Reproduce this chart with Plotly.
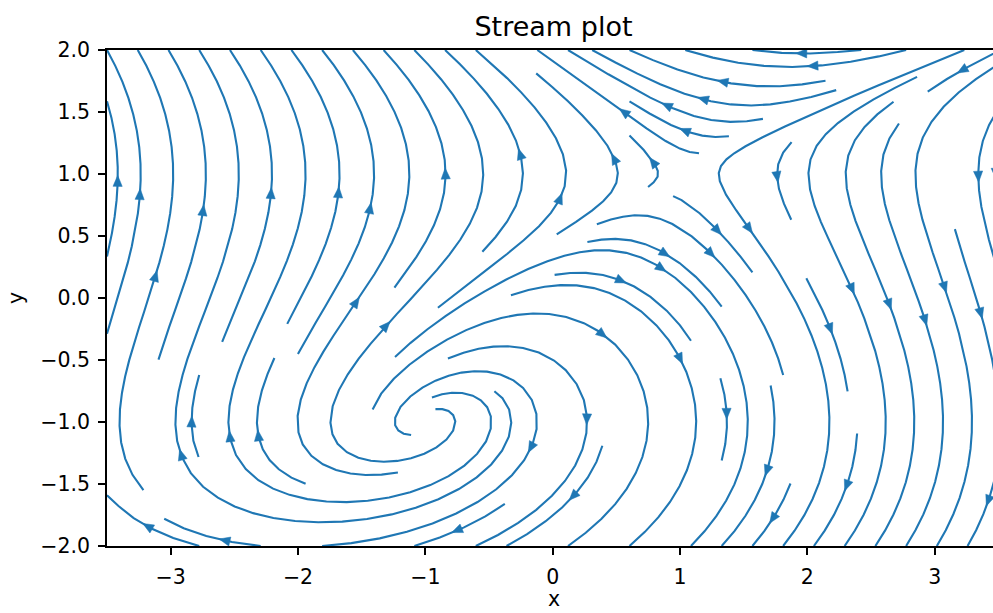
import numpy as np
import plotly.graph_objects as go

# ---------------- data ----------------
x_range = [-3.5, 3.5]
y_range = [-2.0, 2.0]
grid_points = 100
u_strength = 1.0
x_tick_values = [-3, -2, -1, 0, 1, 2, 3]
x_tick_text = ["−3", "−2", "−1", "0", "1", "2", "3"]
y_tick_values = [-2.0, -1.5, -1.0, -0.5, 0.0, 0.5, 1.0, 1.5, 2.0]
y_tick_text = ["−2.0", "−1.5", "−1.0", "−0.5", "0.0", "0.5", "1.0", "1.5", "2.0"]
title_text = "Stream plot"
x_label = "x"
y_label = "y"

xs = np.linspace(x_range[0], x_range[1], grid_points)
ys = np.linspace(y_range[0], y_range[1], grid_points)
X, Y = np.meshgrid(xs, ys)
U = u_strength * (1.0 - Y ** 2)
V = Y - X

# ---------------- layout geometry (px) ----------------
W, H = 993, 613
L, T, B_PX = 107, 50, 546
PW = W - L
PH = B_PX - T
SX = 127.33                      # px per x unit
SY = PH / (y_range[1] - y_range[0])
x_view = [x_range[0], x_range[0] + PW / SX]


class OOB(Exception):
    pass


class Term(Exception):
    pass


class InvIdx(Exception):
    pass


def streamlines(x, y, u, v, density=1.0, minlength=0.1, maxlength=4.0):
    nx, ny = len(x), len(y)
    dx = x[1] - x[0]
    dy = y[1] - y[0]
    mnx = mny = int(30 * density)
    mask = np.zeros((mny, mnx))
    x_g2m = (mnx - 1) / (nx - 1)
    y_g2m = (mny - 1) / (ny - 1)
    ug = u / dx
    vg = v / dy
    speed = np.sqrt((ug / (nx - 1)) ** 2 + (vg / (ny - 1)) ** 2)
    st = {"cur": None, "traj": []}

    def within(xi, yi):
        return 0 <= xi <= nx - 1 and 0 <= yi <= ny - 1

    def g2m(xi, yi):
        return int(round(float(xi * x_g2m))), int(round(float(yi * y_g2m)))

    def upd_mask(xm, ym):
        if st["cur"] != (xm, ym):
            if mask[ym, xm] == 0:
                st["traj"].append((ym, xm))
                mask[ym, xm] = 1
                st["cur"] = (xm, ym)
            else:
                raise InvIdx

    def start(xg, yg):
        xm, ym = g2m(xg, yg)
        st["traj"] = []
        upd_mask(xm, ym)

    def upd(xg, yg):
        if not within(xg, yg):
            raise InvIdx
        xm, ym = g2m(xg, yg)
        upd_mask(xm, ym)

    def interp(a, xi, yi):
        Ny, Nx = a.shape
        x0 = int(xi)
        y0 = int(yi)
        xn = x0 if x0 == Nx - 1 else x0 + 1
        yn = y0 if y0 == Ny - 1 else y0 + 1
        xt = xi - x0
        yt = yi - y0
        a0 = a[y0, x0] * (1 - xt) + a[y0, xn] * xt
        a1 = a[yn, x0] * (1 - xt) + a[yn, xn] * xt
        return a0 * (1 - yt) + a1 * yt

    def fwd(xi, yi):
        if not within(xi, yi):
            raise OOB
        s = interp(speed, xi, yi)
        if s == 0:
            raise Term
        return interp(ug, xi, yi) / s, interp(vg, xi, yi) / s

    def bwd(xi, yi):
        a, b = fwd(xi, yi)
        return -a, -b

    def euler(traj, f):
        xi, yi = traj[-1]
        cx, cy = f(xi, yi)
        if cx == 0:
            dsx = np.inf
        elif cx < 0:
            dsx = xi / -cx
        else:
            dsx = (nx - 1 - xi) / cx
        if cy == 0:
            dsy = np.inf
        elif cy < 0:
            dsy = yi / -cy
        else:
            dsy = (ny - 1 - yi) / cy
        ds = min(dsx, dsy)
        traj.append((xi + cx * ds, yi + cy * ds))
        return ds, traj

    def rk12(x0, y0, f):
        maxerror = 0.003
        maxds = min(1.0 / mnx, 1.0 / mny, 0.1)
        ds = maxds
        stotal = 0.0
        xi, yi = x0, y0
        traj = []
        while True:
            try:
                if within(xi, yi):
                    traj.append((xi, yi))
                else:
                    raise OOB
                k1x, k1y = f(xi, yi)
                k2x, k2y = f(xi + ds * k1x, yi + ds * k1y)
            except OOB:
                if traj:
                    d, traj = euler(traj, f)
                    stotal += d
                break
            except Term:
                break
            dx1 = ds * k1x
            dy1 = ds * k1y
            dx2 = ds * 0.5 * (k1x + k2x)
            dy2 = ds * 0.5 * (k1y + k2y)
            err = np.hypot((dx2 - dx1) / (nx - 1), (dy2 - dy1) / (ny - 1))
            if err < maxerror:
                xi += dx2
                yi += dy2
                try:
                    upd(xi, yi)
                except InvIdx:
                    break
                if stotal + ds > maxlength:
                    break
                stotal += ds
            if err == 0:
                ds = maxds
            else:
                ds = min(maxds, 0.85 * ds * (maxerror / err) ** 0.5)
        return stotal, traj

    def integrate(x0, y0):
        try:
            start(x0, y0)
        except InvIdx:
            return None
        stotal = 0.0
        s, t = rk12(x0, y0, bwd)
        stotal += s
        xy = t[::-1]
        st["cur"] = g2m(x0, y0)
        s, t = rk12(x0, y0, fwd)
        stotal += s
        xy += t[1:]
        if stotal > minlength:
            return np.array(xy)
        for tt in st["traj"]:
            mask[tt] = 0
        return None

    def gen(shape):
        ny_, nx_ = shape
        xfirst, yfirst, xlast, ylast = 0, 1, nx_ - 1, ny_ - 1
        xx, yy = 0, 0
        d = "right"
        for _ in range(nx_ * ny_):
            yield xx, yy
            if d == "right":
                xx += 1
                if xx >= xlast:
                    xlast -= 1
                    d = "up"
            elif d == "up":
                yy += 1
                if yy >= ylast:
                    ylast -= 1
                    d = "left"
            elif d == "left":
                xx -= 1
                if xx <= xfirst:
                    xfirst += 1
                    d = "down"
            elif d == "down":
                yy -= 1
                if yy <= yfirst:
                    yfirst += 1
                    d = "right"

    trajs = []
    for xm, ym in gen(mask.shape):
        if mask[ym, xm] == 0:
            t = integrate(xm / x_g2m, ym / y_g2m)
            if t is not None:
                trajs.append(t)
    return [(t[:, 0] * dx + x[0], t[:, 1] * dy + y[0]) for t in trajs]


lines = streamlines(xs, ys, U, V)

COLOR = "#1f77b4"
ARROW_LEN = 11.0   # px
ARROW_HALF = 4.6   # px

lx, ly, axs, ays = [], [], [], []
for tx, ty in lines:
    lx += list(tx) + [None]
    ly += list(ty) + [None]
    s = np.cumsum(np.hypot(np.diff(tx), np.diff(ty)))
    n = int(np.searchsorted(s, s[-1] / 2.0))
    tail = np.array([tx[n], ty[n]])
    head = np.array([np.mean(tx[n:n + 2]), np.mean(ty[n:n + 2])])
    d = np.array([(head[0] - tail[0]) * SX, (head[1] - tail[1]) * SY])
    nrm = np.hypot(*d)
    if nrm == 0:
        continue
    d = d / nrm
    p = np.array([-d[1], d[0]])
    base = -d * ARROW_LEN
    pts = [(0.0, 0.0), base + p * ARROW_HALF, base - p * ARROW_HALF, (0.0, 0.0)]
    for q in pts:
        axs.append(head[0] + q[0] / SX)
        ays.append(head[1] + q[1] / SY)
    axs.append(None)
    ays.append(None)

fig = go.Figure()
fig.add_trace(go.Scatter(x=lx, y=ly, mode="lines", line=dict(color=COLOR, width=2.1),
                         hoverinfo="skip", showlegend=False))
fig.add_trace(go.Scatter(x=axs, y=ays, mode="lines", fill="toself", fillcolor=COLOR,
                         line=dict(color=COLOR, width=0.5), hoverinfo="skip", showlegend=False))

FONT = "DejaVu Sans"
TICK_SIZE = 20.5
axis_common = dict(showgrid=False, zeroline=False, showline=True, linecolor="black",
                   linewidth=1.7, ticks="outside", ticklen=7, tickwidth=1.6, tickcolor="black",
                   tickfont=dict(family=FONT, size=TICK_SIZE, color="black"))
fig.update_xaxes(range=x_view, tickvals=x_tick_values, ticktext=x_tick_text, mirror=True,
                 ticklabelstandoff=5, **axis_common)
fig.update_yaxes(range=y_range, tickvals=y_tick_values, ticktext=y_tick_text, mirror=False,
                 ticklabelstandoff=4, **axis_common)
fig.update_layout(
    width=W, height=H,
    margin=dict(l=L, r=W - L - PW, t=T, b=H - B_PX, pad=0, autoexpand=False),
    plot_bgcolor="white", paper_bgcolor="white",
    title=dict(text=title_text, x=553.5 / W, xanchor="center", y=1 - 27.0 / H,
               yanchor="middle", font=dict(family=FONT, size=27, color="black")),
    annotations=[
        dict(text=x_label, xref="paper", yref="paper", x=(553.5 - L) / PW,
             y=-(599 - B_PX) / PH, showarrow=False, xanchor="center", yanchor="middle",
             font=dict(family=FONT, size=TICK_SIZE, color="black")),
        dict(text=y_label, xref="paper", yref="paper", x=(16 - L) / PW, y=0.5,
             showarrow=False, xanchor="center", yanchor="middle", textangle=-90,
             font=dict(family=FONT, size=TICK_SIZE, color="black")),
    ],
)
fig.write_html("out.html", config={"displayModeBar": False})
with open("out.html", "r", encoding="utf-8") as fh:
    html = fh.read()
html = html.replace("<head>", "<head><style>html,body{margin:0;padding:0;overflow:hidden;}</style>", 1)
with open("out.html", "w", encoding="utf-8") as fh:
    fh.write(html)
